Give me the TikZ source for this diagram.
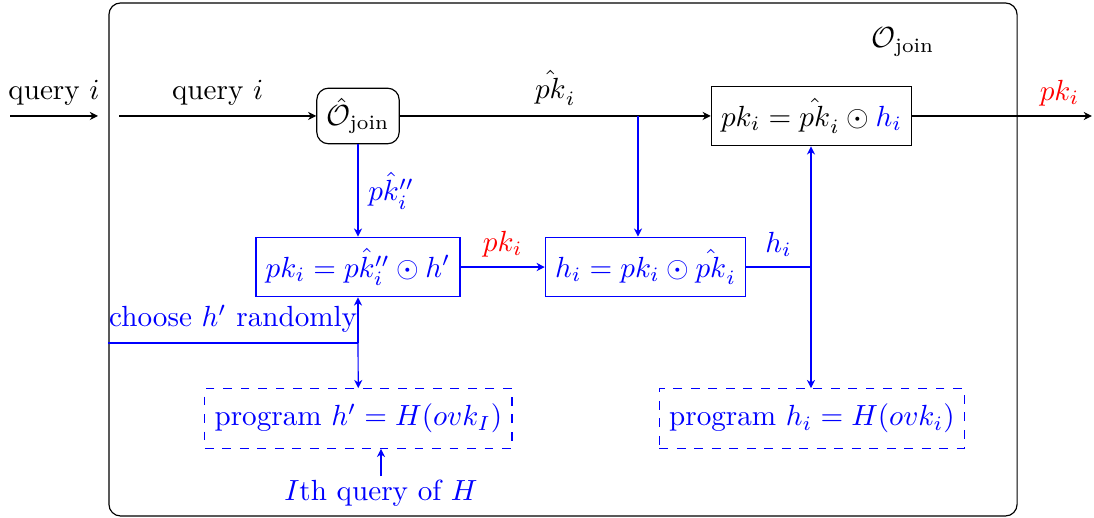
\documentclass[tikz,border=0pt]{standalone}
\usepackage{amsmath,amssymb}
\usepackage{xcolor}
\usepackage{tikz}
\usetikzlibrary{arrows.meta,positioning,calc}

\begin{document}
\begin{tikzpicture}[>={Stealth[length=2.8pt,width=2.8pt]}, x=1.049cm, y=1.049cm,
    box/.style={draw, minimum height=0.72cm},
    bbox/.style={draw=blue, text=blue, minimum height=0.72cm},
    dbox/.style={draw=blue, dashed, text=blue, minimum height=0.72cm}]
    \useasboundingbox (0,0) rectangle (12.575,-5.943);
    \node[draw, rounded corners, minimum width=10.95cm, minimum height=6.186cm] (frame) at (6.4715,-2.9825) {};
    \node (ojoin) at (10.38,-0.483) {$\mathcal{O}_{\text{join}}$};
    \node[draw, rounded corners] (ohat) at (4.115,-1.333) {$\hat{\mathcal{O}}_{\text{join}}$};
    \node[box]  (pkout) at (9.328,-1.333) {$pk_i = \hat{pk}_i \odot \textcolor{blue}{h_i}$};
    \node[bbox] (pkbox) at (4.115,-3.069) {$pk_i = \hat{pk''_i} \odot h'$};
    \node[bbox] (hbox)  at (7.42,-3.069)  {$h_i = pk_i \odot \hat{pk}_i$};
    \node[dbox] (prog1) at (4.12,-4.81)   {program $h' = H(ovk_I)$};
    \node[dbox] (prog2) at (9.333,-4.81)  {program $h_i = H(ovk_i)$};
    \node[text=blue, inner sep=1pt] (ith) at (4.379,-5.665) {$I$th query of $H$};
    \coordinate (in)     at (0.115,-1.333);
    \coordinate (inend)  at (1.126,-1.333);
    \coordinate (start)  at (1.368,-1.333);
    \coordinate (split)  at (7.333,-1.333);
    \coordinate (out)    at (12.55,-1.333);
    \coordinate (hjoin)  at (9.322,-3.069);
    \coordinate (choose) at (4.115,-3.943);
    \draw[->] (in) -- node[above]{query $i$} (inend);
    \draw[->] (start) -- node[above]{query $i$} (ohat);
    \draw[->] (ohat) -- node[above]{$\hat{pk}_i$} (pkout);
    \draw[->] (pkout) -- node[above, pos=0.82, text=red]{$pk_i$} (out);
    \draw[->, blue] (split) -- (split |- hbox.north);
    \draw[->, blue] (ohat) -- node[right]{$\hat{pk''_i}$} (pkbox);
    \draw[->, blue] (pkbox) -- node[above, text=red]{$pk_i$} (hbox);
    \draw[blue] (hbox) -- node[above]{$h_i$} (hjoin);
    \draw[->, blue] (hjoin) -- (pkout.south -| hjoin);
    \draw[->, blue] (hjoin) -- (prog2.north -| hjoin);
    \draw[blue] (frame.west |- choose) -- node[above]{choose $h'$ randomly} (choose);
    \draw[->, blue] (choose) -- (pkbox);
    \draw[->, blue] (choose) -- (prog1);
    \draw[->, blue] (ith) -- (ith |- prog1.south);
  \end{tikzpicture}
\end{document}
